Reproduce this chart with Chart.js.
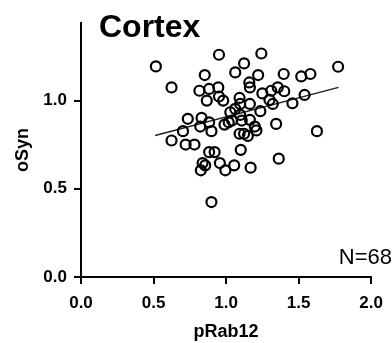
<!DOCTYPE html>
<html lang="en">
<head>
  <meta charset="UTF-8" />
  <title>Cortex</title>
  <style>
    html, body { margin: 0; padding: 0; background: #fff; }
    #wrap { width: 392px; height: 343px; }
  </style>
  <script src="https://cdn.jsdelivr.net/npm/chart.js"></script>
</head>
<body>
<div id="wrap"><canvas id="scatterChart" width="392" height="343"></canvas></div>

<script>
  // pRab12 vs oSyn, cortex samples
  const pRab12 = [
    0.516, 0.951, 0.624, 0.853, 1.063, 1.124, 0.816, 0.883, 0.946, 0.867,
    0.951, 0.980, 1.093, 0.736, 0.831, 0.883, 1.029, 1.041, 1.243, 1.221,
    1.397, 1.518, 1.581, 1.772, 1.160, 1.164, 1.250, 1.311, 1.356, 1.401,
    1.541, 1.299, 1.322, 1.457, 1.097, 1.164, 1.236, 1.108, 1.164, 1.345,
    0.624, 0.703, 0.721, 0.782, 0.822, 0.899, 0.883, 0.921, 0.838, 0.826,
    0.856, 0.957, 0.995, 1.056, 0.899, 0.989, 1.093, 1.124, 1.101, 1.626,
    1.363, 1.169, 1.198, 1.209, 1.063, 1.018, 1.097, 1.150
  ];
  const oSyn = [
    1.194, 1.260, 1.075, 1.145, 1.160, 1.211, 1.056, 1.066, 1.075, 1.000,
    1.023, 1.000, 1.015, 0.897, 0.902, 0.877, 0.934, 0.887, 1.267, 1.145,
    1.151, 1.137, 1.151, 1.192, 1.103, 1.075, 1.041, 1.056, 1.075, 1.053,
    1.032, 1.004, 0.981, 0.985, 0.981, 0.981, 0.940, 0.887, 0.891, 0.868,
    0.774, 0.827, 0.751, 0.751, 0.853, 0.827, 0.708, 0.708, 0.646, 0.605,
    0.633, 0.646, 0.605, 0.633, 0.425, 0.864, 0.812, 0.812, 0.721, 0.827,
    0.671, 0.620, 0.853, 0.831, 0.953, 0.877, 0.919, 0.800
  ];

  // regression line ends
  const fitX = [0.511, 1.775];
  const fitY = [0.802, 1.075];

  const xTicks = [0, 0.5, 1.0, 1.5, 2.0];
  const yTicks = [0, 0.5, 1.0];

  const points = pRab12.map((x, i) => ({ x: x, y: oSyn[i] }));
  const fitLine = fitX.map((x, i) => ({ x: x, y: fitY[i] }));

  const FONT = "'Liberation Sans', Arial, sans-serif";

  // title and N label
  const textPlugin = {
    id: 'textPlugin',
    afterDraw(chart) {
      const ctx = chart.ctx;
      ctx.save();
      ctx.fillStyle = '#000';
      ctx.font = "bold 32px " + FONT;
      ctx.textAlign = 'left';
      ctx.textBaseline = 'alphabetic';
      ctx.fillText('Cortex', 99, 37);
      ctx.font = "22px " + FONT;
      ctx.textAlign = 'right';
      ctx.fillText('N=68', 392, 264);
      ctx.restore();
    }
  };

  const ctx = document.getElementById('scatterChart').getContext('2d');
  const chart = new Chart(ctx, {
    type: 'scatter',
    data: {
      datasets: [
        {
          label: 'samples',
          data: points,
          pointStyle: 'circle',
          pointRadius: 5,
          pointBorderWidth: 2.2,
          borderColor: '#000',
          backgroundColor: 'rgba(0,0,0,0)',
          clip: false
        },
        {
          type: 'line',
          label: 'fit',
          data: fitLine,
          borderColor: '#222',
          borderWidth: 1.5,
          pointRadius: 0,
          fill: false
        }
      ]
    },
    options: {
      responsive: false,
      animation: false,
      layout: { padding: { top: 23, right: 15, left: 0, bottom: 0 } },
      plugins: { legend: { display: false }, tooltip: { enabled: false } },
      scales: {
        x: {
          type: 'linear',
          min: 0, max: 2,
          afterBuildTicks: s => { s.ticks = xTicks.map(v => ({ value: v })); },
          afterFit: s => { s.height = 66; },
          grid: { drawOnChartArea: false, drawTicks: true, tickLength: 7, color: '#000', lineWidth: 2 },
          border: { display: true, color: '#000', width: 2 },
          ticks: {
            color: '#000', padding: 9,
            font: { family: FONT, size: 17, weight: 'bold' },
            callback: v => v.toFixed(1)
          },
          title: {
            display: true, text: 'pRab12', color: '#000',
            font: { family: FONT, size: 18, weight: 'bold' },
            padding: { top: 0, bottom: 0 }
          }
        },
        y: {
          type: 'linear',
          min: 0, max: 1.44,
          afterBuildTicks: s => { s.ticks = yTicks.map(v => ({ value: v })); },
          afterFit: s => { s.width = 81; },
          grid: { drawOnChartArea: false, drawTicks: true, tickLength: 7, color: '#000', lineWidth: 2 },
          border: { display: true, color: '#000', width: 2 },
          ticks: {
            color: '#000', padding: 7,
            font: { family: FONT, size: 17, weight: 'bold' },
            callback: v => v.toFixed(1)
          },
          title: {
            display: true, text: 'oSyn', color: '#000',
            font: { family: FONT, size: 18, weight: 'bold' },
            padding: { top: 12, bottom: 0 }
          }
        }
      }
    },
    plugins: [textPlugin]
  });
</script>
</body>
</html>
